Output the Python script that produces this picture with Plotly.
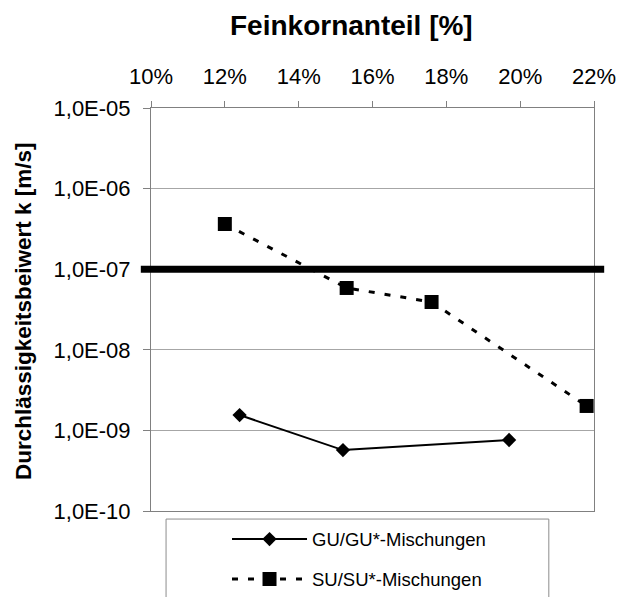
import plotly.graph_objects as go

# ---- data ----
GU_X = [12.4, 15.2, 19.7]
GU_K = [1.55e-9, 5.7e-10, 7.6e-10]
SU_X = [12.0, 15.3, 17.6, 21.8]
SU_K = [3.64e-7, 5.85e-8, 3.92e-8, 2.01e-9]
THRESHOLD_K = 1e-7

X_TICKVALS = [10, 12, 14, 16, 18, 20, 22]
X_TICKTEXT = ["10%", "12%", "14%", "16%", "18%", "20%", "22%"]
Y_TICKVALS = [1e-10, 1e-9, 1e-8, 1e-7, 1e-6, 1e-5]
Y_TICKTEXT = ["1,0E-10", "1,0E-09", "1,0E-08", "1,0E-07", "1,0E-06", "1,0E-05"]

GU_NAME = "GU/GU*-Mischungen"
SU_NAME = "SU/SU*-Mischungen"
X_TITLE = "Feinkornanteil [%]"
Y_TITLE = "Durchlässigkeitsbeiwert k [m/s]"

FONT = "Liberation Sans, Arial, sans-serif"
GRID = "#a6a6a6"
AXIS = "#808080"

fig = go.Figure()
fig.add_trace(go.Scatter(
    x=GU_X, y=GU_K, name=GU_NAME, mode="lines+markers",
    line=dict(color="black", width=2),
    marker=dict(symbol="diamond", size=11, color="black"),
    legendgroup="gu",
))
fig.add_trace(go.Scatter(
    x=SU_X, y=SU_K, name=SU_NAME, mode="lines+markers",
    line=dict(color="black", width=3, dash="6px,10px"),
    marker=dict(symbol="square", size=14, color="black"),
    legendgroup="su",
))

fig.add_shape(type="line", xref="paper", yref="y",
              x0=-0.023, x1=1.023, y0=THRESHOLD_K, y1=THRESHOLD_K,
              line=dict(color="black", width=7), layer="above")

# legend frame
fig.add_shape(type="rect", xref="paper", yref="paper",
              x0=0.034, x1=0.898, y0=-0.40, y1=-0.02,
              line=dict(color="#8c8c8c", width=1), fillcolor="white", layer="below")

fig.add_annotation(text=X_TITLE, xref="paper", yref="paper", x=0.4537, y=1.2035,
                   showarrow=False, xanchor="center", yanchor="middle",
                   font=dict(family=FONT, size=28, color="black", weight="bold"))
fig.add_annotation(text=Y_TITLE, xref="paper", yref="paper", x=-0.289, y=0.496,
                   showarrow=False, xanchor="center", yanchor="middle", textangle=-90,
                   font=dict(family=FONT, size=22.5, color="black", weight="bold"))

fig.update_layout(
    width=620, height=589,
    margin=dict(l=143, r=34, t=100, b=86, autoexpand=False),
    plot_bgcolor="white", paper_bgcolor="white",
    font=dict(family=FONT, size=22, color="black"),
    showlegend=True,
    legend=dict(x=0.1716, y=-0.0236, xanchor="left", yanchor="top",
                bgcolor="rgba(0,0,0,0)", borderwidth=0,
                font=dict(family=FONT, size=18.5, color="black"),
                itemwidth=75, tracegroupgap=13, traceorder="grouped"),
    xaxis=dict(side="top", range=[10, 22], tickvals=X_TICKVALS, ticktext=X_TICKTEXT,
               showgrid=False, zeroline=False, showline=True, linecolor=AXIS,
               linewidth=1, mirror=True, ticks="outside", ticklen=6, tickcolor=AXIS,
               ticklabelstandoff=8,
               tickfont=dict(family=FONT, size=22, color="black")),
    yaxis=dict(type="log", range=[-10, -5], tickvals=Y_TICKVALS, ticktext=Y_TICKTEXT,
               showgrid=True, gridcolor=GRID, gridwidth=1, zeroline=False,
               showline=True, linecolor=AXIS, linewidth=1, mirror=True,
               ticks="outside", ticklen=7, tickcolor=AXIS, ticklabelstandoff=8,
               tickfont=dict(family=FONT, size=22, color="black")),
)

fig.write_html("out.html")
